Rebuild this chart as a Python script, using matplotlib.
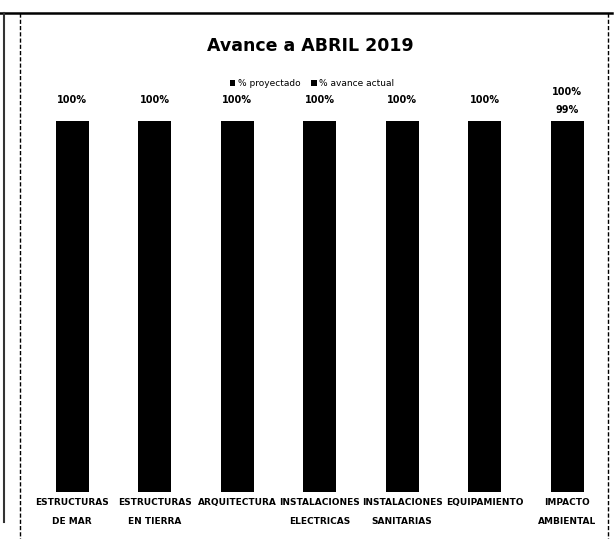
import matplotlib
matplotlib.use("Agg")
import matplotlib.pyplot as plt
from matplotlib.lines import Line2D
import numpy as np

categories = ["ESTRUCTURAS\nDE MAR", "ESTRUCTURAS\nEN TIERRA", "ARQUITECTURA",
              "INSTALACIONES\nELECTRICAS", "INSTALACIONES\nSANITARIAS",
              "EQUIPAMIENTO", "IMPACTO\nAMBIENTAL"]
proyectado = [100, 100, 100, 100, 100, 100, 100]
avance = [100, 100, 100, 100, 100, 100, 99]
series_names = ["% proyectado", "% avance actual"]
title = "Avance a ABRIL 2019"

W, H = 616, 539
fig = plt.figure(figsize=(W / 100, H / 100), dpi=100)
fig.patch.set_facecolor("white")

ax = fig.add_axes([31 / W, 1 - 492 / H, 577.5 / W, 371 / H])
x = np.arange(len(categories))
bw = 0.4
b1 = ax.bar(x, proyectado, width=bw, color="black", label=series_names[0], zorder=2)
b2 = ax.bar(x, avance, width=bw, color="black", label=series_names[1], zorder=3)
ax.set_xlim(-0.5, len(categories) - 0.5)
ax.set_ylim(0, 100)
for s in ax.spines.values():
    s.set_visible(False)
ax.set_yticks([])
ax.set_xticks(x)
ax.set_xticklabels(categories, fontsize=6.5, fontweight="bold", linespacing=2.5)
ax.tick_params(axis="x", length=0, pad=4)

for i, (p, a) in enumerate(zip(proyectado, avance)):
    if p == a:
        ax.annotate(f"{p}%", (i, p), xytext=(0, 15), textcoords="offset points",
                    ha="center", va="center", fontsize=7, fontweight="bold",
                    annotation_clip=False)
    else:
        ax.annotate(f"{p}%", (i, p), xytext=(0, 21), textcoords="offset points",
                    ha="center", va="center", fontsize=7, fontweight="bold",
                    annotation_clip=False)
        ax.annotate(f"{a}%", (i, p), xytext=(0, 8), textcoords="offset points",
                    ha="center", va="center", fontsize=7, fontweight="bold",
                    annotation_clip=False)

fig.text(310 / W, 1 - 46 / H, title, ha="center", va="center",
         fontsize=12.5, fontweight="bold")
fig.legend(handles=[b1, b2], labels=series_names, loc="center",
           bbox_to_anchor=(312 / W, 1 - 84 / H), ncol=2, frameon=False,
           fontsize=6.5, handlelength=0.6, handleheight=0.6, columnspacing=1.2,
           handletextpad=0.3)

# scanned frame lines
fig.add_artist(Line2D([0, 612 / W], [1 - 13 / H, 1 - 13 / H], color="black", lw=1.8))
fig.add_artist(Line2D([4 / W, 4 / W], [1 - 13 / H, 1 - 522 / H], color="#333333", lw=1.5))
fig.add_artist(Line2D([20 / W, 20 / W], [1 - 13 / H, 0], color="black", lw=1.0,
                      linestyle=(0, (3, 1.5))))
fig.add_artist(Line2D([608 / W, 608 / W], [1 - 13 / H, 0], color="black", lw=1.0,
                      linestyle=(0, (3, 1.5))))

fig.savefig("out.png", dpi=100, facecolor="white")
